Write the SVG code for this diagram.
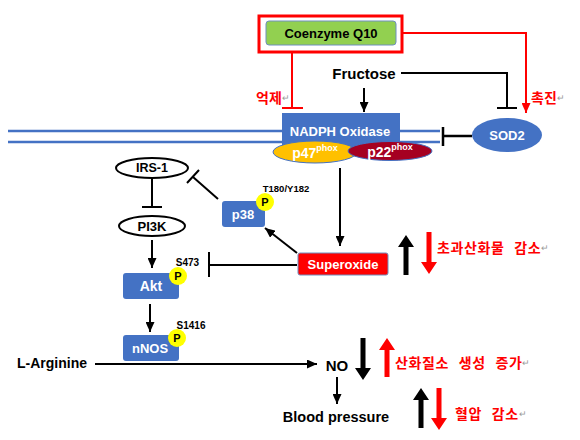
<svg xmlns="http://www.w3.org/2000/svg" width="580" height="440" viewBox="0 0 580 440">
<defs>
<style>
.t{font-family:"Liberation Sans",Arial,sans-serif;font-weight:bold;text-anchor:middle;dominant-baseline:central}
.w{fill:#fff}
.k{fill:#000}
.kr{font-family:"Noto Sans CJK KR",sans-serif;font-weight:bold;fill:#ff0000;font-size:14px;dominant-baseline:central}
.sp{letter-spacing:0.6px;word-spacing:6px}
.ret{fill:#999;font-weight:normal;font-size:9px}
.ln{stroke:#000;stroke-width:2;fill:none}
.rl{stroke:#ff0000;stroke-width:2;fill:none}
.blue{fill:#4472C4}
.pc{fill:#ffff00}
.mem{stroke:#4472C4;stroke-width:2.5}
</style>
<marker id="ah" markerUnits="userSpaceOnUse" markerWidth="10" markerHeight="9" refX="10" refY="4.5" orient="auto"><path d="M0,0 L10,4.5 L0,9 z" fill="#000"/></marker>
<marker id="ahr" markerUnits="userSpaceOnUse" markerWidth="10" markerHeight="9" refX="10" refY="4.5" orient="auto"><path d="M0,0 L10,4.5 L0,9 z" fill="#ff0000"/></marker>
</defs>
<rect width="580" height="440" fill="#fff"/>

<g id="membrane">
<line class="mem" x1="8" y1="131" x2="440" y2="131"/>
<line class="mem" x1="8" y1="142" x2="440" y2="142"/>
</g>

<g id="connectors">
<path class="rl" d="M292,52 V108 M282,108 H303"/>
<path class="rl" d="M402,33 H526 V113" marker-end="url(#ahr)"/>
<path class="ln" d="M401,73 H507 V108 M497,108 H517"/>
<line class="ln" x1="364" y1="88" x2="364" y2="112" marker-end="url(#ah)"/>
<path class="ln" d="M472,136 H443 M443,127 V146" style="stroke-width:2.5"/>
<line class="ln" x1="340" y1="168" x2="340" y2="246" marker-end="url(#ah)"/>
<line class="ln" x1="297" y1="253" x2="265" y2="228" marker-end="url(#ah)"/>
<path class="ln" d="M218,199 L193,177 M187,183 L199,170"/>
<path class="ln" d="M152,178 V207 M142,207 H162"/>
<line class="ln" x1="152" y1="240" x2="152" y2="268" marker-end="url(#ah)"/>
<path class="ln" d="M297,265 H209 M209,252 V277"/>
<line class="ln" x1="150" y1="304" x2="150" y2="332" marker-end="url(#ah)"/>
<line class="ln" x1="95" y1="364" x2="317" y2="364" marker-end="url(#ah)"/>
<line class="ln" x1="337" y1="377" x2="337" y2="404" marker-end="url(#ah)"/>
</g>

<g id="coq10">
<rect x="259" y="16" width="143" height="36" fill="none" stroke="#ff0000" stroke-width="3"/>
<rect x="266" y="21" width="130" height="24" rx="3" fill="#92D050" stroke="#6F8FBF" stroke-width="1"/>
<text class="t k" x="331" y="33" font-size="13">Coenzyme Q10</text>
</g>

<g id="label-inhibit"><text class="kr" x="256" y="97" font-size="13">억제<tspan class="ret">↵</tspan></text></g>
<g id="label-promote"><text class="kr" x="531" y="97" font-size="13">촉진<tspan class="ret">↵</tspan></text></g>

<g id="fructose"><text class="t k" x="364" y="73" font-size="15">Fructose</text></g>

<g id="nadph">
<rect class="blue" x="282" y="113" width="118" height="38"/>
<text class="t w" x="340" y="131" font-size="13">NADPH Oxidase</text>
<ellipse cx="315" cy="152" rx="42" ry="11" fill="#FFC000" stroke="#4472C4" stroke-width="1"/>
<text class="t w" x="315" y="153" font-size="14">p47<tspan font-size="9" dy="-5">phox</tspan></text>
<ellipse cx="390" cy="151" rx="42" ry="9.5" fill="#A50021" stroke="#4472C4" stroke-width="1"/>
<text class="t w" x="390" y="152" font-size="14">p22<tspan font-size="9" dy="-5">phox</tspan></text>
</g>

<g id="sod2">
<ellipse cx="507" cy="135" rx="35" ry="17" class="blue"/>
<text class="t w" x="507" y="135" font-size="13">SOD2</text>
</g>

<g id="irs1">
<ellipse cx="152" cy="168" rx="36" ry="10" fill="#fff" stroke="#000" stroke-width="2"/>
<text class="t k" x="152" y="168" font-size="12.5">IRS-1</text>
</g>

<g id="pi3k">
<ellipse cx="152" cy="226" rx="33" ry="10" fill="#fff" stroke="#000" stroke-width="2"/>
<text class="t k" x="152" y="226" font-size="13">PI3K</text>
</g>

<g id="p38">
<rect class="blue" x="222" y="201" width="43" height="26" rx="3"/>
<text class="t w" x="243" y="214" font-size="13">p38</text>
<circle class="pc" cx="265" cy="202" r="9"/>
<text class="t k" x="265" y="202" font-size="11">P</text>
<text class="t k" x="286" y="188" font-size="9.5">T180/Y182</text>
</g>

<g id="akt">
<rect class="blue" x="123" y="273" width="56" height="26" rx="3"/>
<text class="t w" x="151" y="286" font-size="14">Akt</text>
<circle class="pc" cx="178" cy="276" r="9"/>
<text class="t k" x="178" y="276" font-size="11">P</text>
<text class="t k" x="187.5" y="262" font-size="10">S473</text>
</g>

<g id="superoxide">
<rect x="298" y="253" width="90" height="22" rx="2" fill="#ff0000" stroke="#6F8FBF" stroke-width="1"/>
<text class="t w" x="343" y="264" font-size="13">Superoxide</text>
</g>

<g id="nnos">
<rect class="blue" x="123" y="335" width="56" height="26" rx="3"/>
<text class="t w" x="150" y="348" font-size="13">nNOS</text>
<circle class="pc" cx="177" cy="338" r="9"/>
<text class="t k" x="177" y="338" font-size="11">P</text>
<text class="t k" x="191" y="325" font-size="10">S1416</text>
</g>

<g id="larginine"><text class="t k" x="52" y="363" font-size="14">L-Arginine</text></g>
<g id="no"><text class="t k" x="337" y="365" font-size="15">NO</text></g>
<g id="bp"><text class="t k" x="336" y="417" font-size="14.5">Blood pressure</text></g>

<g id="indicators">
<path d="M403.5,275 V247 H398 L406,235 L414,247 H408.5 V275 Z" fill="#000"/>
<path d="M426.5,232 V262 H421 L429,274 L437,262 H431.5 V232 Z" fill="#ff0000"/>
<text class="kr sp" x="437" y="247">초과산화물 감소<tspan class="ret">↵</tspan></text>
<path d="M360.5,338 V368 H355 L363,380 L371,368 H365.5 V338 Z" fill="#000"/>
<path d="M384.5,377 V350 H379 L387,338 L395,350 H389.5 V377 Z" fill="#ff0000"/>
<text class="kr sp" x="395" y="362">산화질소 생성 증가<tspan class="ret">↵</tspan></text>
<path d="M418.5,428 V400 H413 L421,388 L429,400 H423.5 V428 Z" fill="#000"/>
<path d="M436.5,388 V418 H431 L439,430 L447,418 H441.5 V388 Z" fill="#ff0000"/>
<text class="kr sp" x="455" y="413">혈압 감소<tspan class="ret">↵</tspan></text>
</g>
</svg>
